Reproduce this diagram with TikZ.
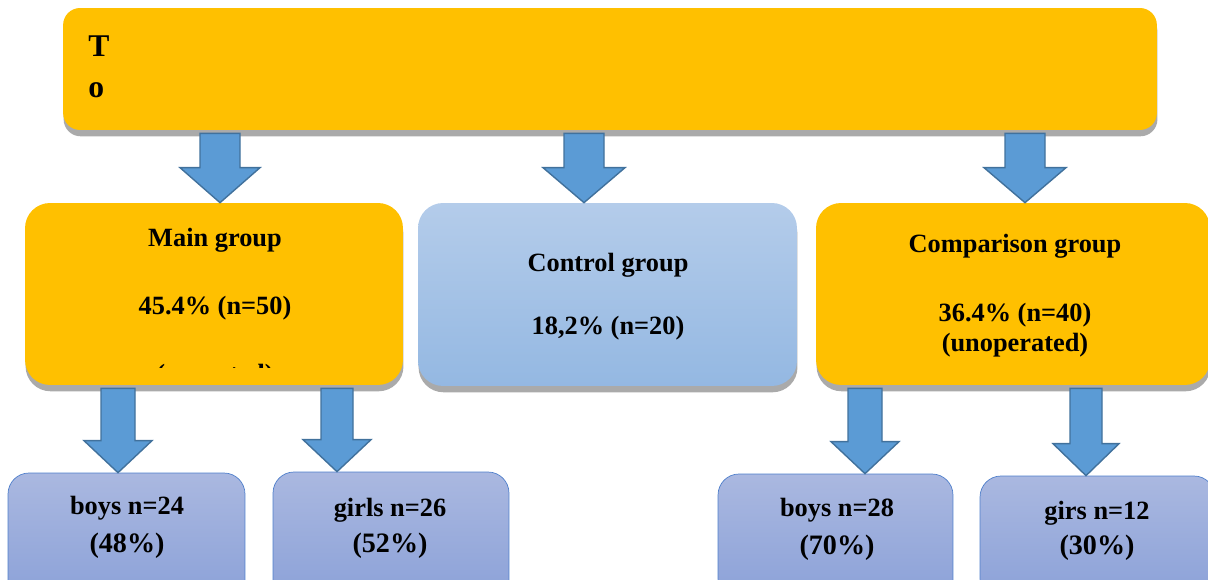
\documentclass[tikz,border=0pt]{standalone}
\usepackage{fontspec}
\setmainfont{Liberation Serif}
\usetikzlibrary{calc,shadows}
\definecolor{grpyellow}{HTML}{FFC000}
\definecolor{grpshadow}{HTML}{AAAAAA}
\definecolor{arrowfill}{HTML}{5B9BD5}
\definecolor{arrowedge}{HTML}{41719C}
\definecolor{ctrltop}{HTML}{B4CCEA}
\definecolor{ctrlbottom}{HTML}{94B8E2}
\definecolor{subtop}{HTML}{AAB8E0}
\definecolor{subbottom}{HTML}{8BA1D8}
\definecolor{subedge}{HTML}{4F7FCB}

\tikzset{
  boxshadow/.style={drop shadow={shadow xshift=0.3pt,shadow yshift=-3.6pt,
      fill=grpshadow,opacity=1}},
  topbox/.style={fill=grpyellow,rounded corners=0.34cm,boxshadow},
  groupbox/.style={fill=grpyellow,rounded corners=0.5cm,boxshadow,
      minimum width=7.56cm,minimum height=3.64cm},
  controlbox/.style={top color=ctrltop,bottom color=ctrlbottom,rounded corners=0.5cm,
      boxshadow,minimum width=7.58cm,minimum height=3.66cm},
  subbox/.style={draw=subedge,thin,top color=subtop,bottom color=subbottom,
      rounded corners=0.42cm,minimum width=4.72cm},
  grouptext/.style={font=\fontsize{15}{18}\selectfont\bfseries,inner sep=0pt,anchor=base},
  bigtext/.style={font=\fontsize{16}{19}\selectfont\bfseries,inner sep=0pt,anchor=base},
  arrowshape/.style={draw=arrowedge,fill=arrowfill,line width=0.8pt,line join=miter}
}

%% block arrow: x, from node, to node, shaft half-width, head half-width, head length
\newcommand{\grouparrow}[6]{%
  \coordinate (ax) at (#1,0);
  \draw[arrowshape] ($(ax |- #2.south)+(-#4,3)$) -- ($(ax |- #2.south)+(#4,3)$)
    -- ($(ax |- #3.north)+(#4,-#6)$) -- ($(ax |- #3.north)+(#5,-#6)$)
    -- (ax |- #3.north) -- ($(ax |- #3.north)+(-#5,-#6)$)
    -- ($(ax |- #3.north)+(-#4,-#6)$) -- cycle;}

\begin{document}
\begin{tikzpicture}[x=0.02cm,y=-0.02cm]
  \useasboundingbox (0,0) rectangle (1208,580);
  \clip (0,0) rectangle (1208,580);

  %% Top box
  \node[topbox,minimum width=21.88cm,minimum height=2.44cm] (top) at (610,69) {};
  \node[font=\fontsize{18}{22}\selectfont\bfseries,inner sep=0pt,anchor=base west]
        (topT) at (88,57) {T};
  \node[font=\fontsize{18}{22}\selectfont\bfseries,inner sep=0pt,anchor=base west]
        (topO) at (88,98) {o};

  %% Group boxes
  \node[groupbox] (main) at (214,294) {};
  \node[controlbox] (control) at (607.5,294.5) {};
  \node[groupbox,minimum width=7.88cm] (comp) at (1013,294) {};

  \node[grouptext] (maintitle) at (215,247) {Main group};
  \node[grouptext] (mainval) at (215,315) {45.4\% (n=50)};
  \begin{scope}
    \clip (30,340) rectangle (400,368);
    \node[grouptext] (mainnote) at (215,383) {(operated)};
  \end{scope}

  \node[grouptext] (ctrltitle) at (608,272) {Control group};
  \node[grouptext] (ctrlval) at (608,335) {18,2\% (n=20)};

  \node[grouptext] (comptitle) at (1015,253) {Comparison group};
  \node[grouptext] (compval) at (1015,322) {36.4\% (n=40)};
  \node[grouptext] (compnote) at (1015,352) {(unoperated)};

  %% Sub-group boxes
  \node[subbox,minimum width=4.74cm,minimum height=2.54cm] (boysA) at (126.5,536.5) {};
  \node[subbox,minimum width=4.72cm,minimum height=2.56cm] (girlsA) at (391,536) {};
  \node[subbox,minimum width=4.70cm,minimum height=2.52cm] (boysB) at (835.5,537) {};
  \node[subbox,minimum width=4.70cm,minimum height=2.48cm] (girlsB) at (1097.5,538) {};

  \node[grouptext] (boysAn) at (127,515) {boys n=24};
  \node[bigtext] (boysAp) at (127,553) {(48\%)};
  \node[grouptext] (girlsAn) at (390,517) {girls n=26};
  \node[bigtext] (girlsAp) at (390,553) {(52\%)};
  \node[grouptext] (boysBn) at (837,517) {boys n=28};
  \node[bigtext] (boysBp) at (837,555) {(70\%)};
  \node[grouptext] (girlsBn) at (1097,520) {girs n=12};
  \node[bigtext] (girlsBp) at (1097,555) {(30\%)};

  %% Arrows
  \grouparrow{220}{top}{main}{20}{40}{35}
  \grouparrow{584}{top}{control}{20}{41}{35}
  \grouparrow{1025}{top}{comp}{20}{41}{35}
  \grouparrow{118}{main}{boysA}{17}{34}{32}
  \grouparrow{337}{main}{girlsA}{16}{34}{32}
  \grouparrow{865}{comp}{boysB}{17}{34}{32}
  \grouparrow{1086}{comp}{girlsB}{16}{33}{32}
\end{tikzpicture}
\end{document}
